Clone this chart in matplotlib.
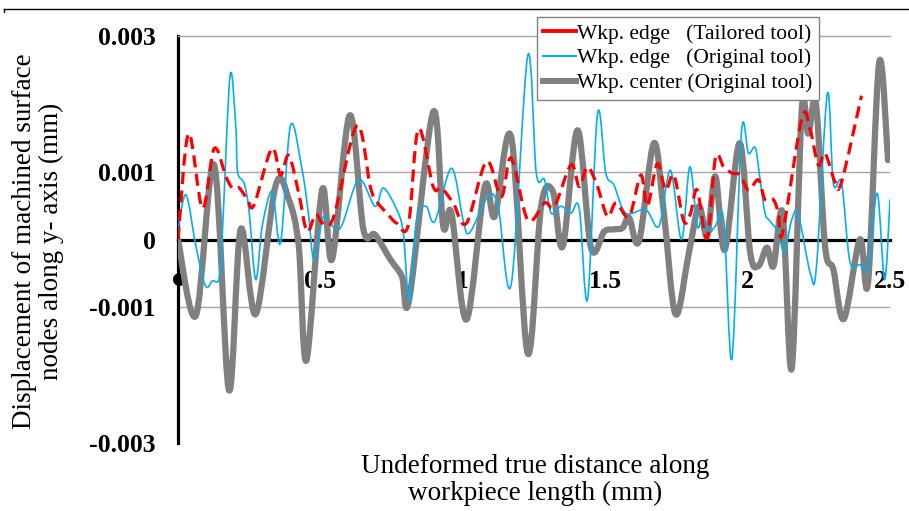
import numpy as np
import matplotlib.pyplot as plt
from matplotlib.lines import Line2D
from matplotlib.path import Path
from matplotlib.patches import PathPatch

# Wkp. center (Original tool)  -- x in mm, y in mm
center_x = [0, 0.063, 0.127, 0.179, 0.220, 0.273, 0.343, 0.389, 0.424, 0.451, 0.506,
            0.541, 0.603, 0.651, 0.692, 0.745, 0.786, 0.812, 0.896, 0.931, 0.960, 1.013,
            1.077, 1.112, 1.170, 1.228, 1.275, 1.316, 1.351, 1.403, 1.450, 1.497, 1.531,
            1.561, 1.584, 1.619, 1.671, 1.706, 1.747, 1.794, 1.829, 1.858, 1.887, 1.920,
            1.972, 2.009, 2.038, 2.068, 2.091, 2.123, 2.155, 2.190, 2.213, 2.240, 2.272,
            2.301, 2.338, 2.394, 2.423, 2.462, 2.493]
center_y = [0.0, -0.00112, 0.00110, -0.00222, 0.00015, -0.00110, 0.00080, 0.00059, -0.00010,
            -0.00178, 0.00073, -0.00029, 0.00183, 0.00015, 0.00007, -0.00029, -0.00054,
            -0.00088, 0.00188, 0.00020, 0.00039, -0.00118, 0.00078, 0.00034, 0.00151,
            -0.00168, 0.00049, 0.00071, -0.00010, 0.00161, -0.00012, 0.00012, 0.00015,
            0.00017, 0.00032, -0.00002, 0.00142, 0.00039, -0.00110, -0.00019, 0.00049,
            0.00005, 0.00093, -0.00015, 0.00142, -0.00019, -0.00039, -0.00012, -0.00039,
            0.00039, -0.00190, 0.00190, 0.00156, 0.00200, -0.00010, -0.00044, -0.00117,
            0.0, -0.00063, 0.00261, 0.00117]

# Wkp. edge (Original tool)
orig_x = [0, 0.028, 0.063, 0.096, 0.121, 0.145, 0.157, 0.183, 0.203, 0.209, 0.232, 0.249,
          0.273, 0.296, 0.331, 0.360, 0.395, 0.436, 0.459, 0.477, 0.506, 0.523, 0.570,
          0.634, 0.692, 0.721, 0.768, 0.791, 0.812, 0.838, 0.871, 0.902, 0.960, 1.001,
          1.024, 1.088, 1.124, 1.170, 1.228, 1.258, 1.287, 1.310, 1.345, 1.380, 1.409,
          1.438, 1.473, 1.502, 1.531, 1.572, 1.642, 1.689, 1.729, 1.768, 1.797, 1.823,
          1.841, 1.864, 1.887, 1.916, 1.945, 1.978, 2.003, 2.027, 2.044, 2.061, 2.079,
          2.108, 2.129, 2.155, 2.178, 2.221, 2.242, 2.280, 2.301, 2.330, 2.359, 2.394,
          2.423, 2.455, 2.481, 2.500]
orig_y = [0.00015, 0.00066, -0.00010, -0.00068, -0.00061, -0.00056, 0.00020, 0.00242,
          0.00166, 0.00100, 0.00083, 0.00044, -0.00059, 0.00020, 0.00071, -0.00005,
          0.00168, 0.00102, 0.00034, -0.00029, 0.00029, 0.00030, 0.00017, 0.00088,
          0.00049, 0.00076, 0.00044, 0.00010, -0.00090, 0.00029, 0.00049, 0.00027,
          0.00105, 0.00029, 0.00010, 0.00063, 0.00049, -0.00066, 0.00271, 0.00098,
          0.00088, 0.00039, 0.00049, 0.00039, 0.00046, -0.00088, 0.00185, 0.00098,
          0.00080, 0.00039, 0.00044, 0.00020, 0.00102, 0.0, 0.00107, 0.00020, 0.00034,
          0.00010, 0.00020, 0.00029, -0.00176, 0.00156, 0.00127, 0.00135, 0.00088,
          0.00039, 0.00027, 0.00010, -0.00019, 0.00029, 0.00037, -0.00051, -0.00039,
          0.00215, 0.00083, 0.00083, -0.00032, -0.00037, -0.00041, 0.00068, -0.00059,
          0.00059]

# Wkp. edge (Tailored tool)
tail_x = [0, 0.037, 0.086, 0.127, 0.168, 0.191, 0.215, 0.244, 0.267, 0.329, 0.360, 0.389,
          0.424, 0.453, 0.483, 0.509, 0.547, 0.628, 0.675, 0.698, 0.733, 0.768, 0.809,
          0.844, 0.896, 0.925, 0.966, 1.013, 1.083, 1.135, 1.170, 1.228, 1.287, 1.322,
          1.380, 1.409, 1.438, 1.473, 1.508, 1.538, 1.584, 1.625, 1.648, 1.683, 1.712,
          1.741, 1.776, 1.800, 1.823, 1.858, 1.887, 1.916, 1.945, 1.974, 2.003, 2.038,
          2.061, 2.090, 2.108, 2.123, 2.190, 2.219, 2.248, 2.272, 2.307, 2.330, 2.400]
tail_y = [0.0, 0.00156, 0.00046, 0.00134, 0.00093, 0.00076, 0.00076, 0.00059, 0.00051,
          0.00134, 0.00095, 0.00124, 0.00068, 0.00012, 0.00037, 0.00024, 0.00034,
          0.00168, 0.00078, 0.00056, 0.00039, 0.00024, 0.00022, 0.00163, 0.00078,
          0.00076, 0.00054, 0.00024, 0.00115, 0.00063, 0.00120, 0.00029, 0.00054,
          0.00049, 0.00110, 0.00078, 0.00107, 0.00078, 0.00034, 0.00054, 0.00034,
          0.00095, 0.00049, 0.00112, 0.00073, 0.00095, 0.00027, 0.00039, 0.00073,
          0.00002, 0.00120, 0.00107, 0.00098, 0.00095, 0.00073, 0.00088, 0.00059,
          0.00059, 0.00039, 0.00010, 0.00178, 0.00163, 0.00110, 0.00127, 0.00085,
          0.00085, 0.00212]

y_ticks = [-0.003, -0.001, 0, 0.001, 0.003]
y_labels = ['-0.003', '-0.001', '0', '0.001', '0.003']
x_ticks = [0, 0.5, 1, 1.5, 2, 2.5]
x_labels = ['\u25cf', '0.5', '1', '1.5', '2', '2.5']

serif = 'Liberation Serif'


def smooth_path(xs, ys):
    # Excel-style smoothed line: cubic Bezier segments through the data points
    p = np.column_stack([xs, ys])
    verts = [p[0]]
    codes = [Path.MOVETO]
    n = len(p)
    for i in range(n - 1):
        p0 = p[max(i - 1, 0)]
        p1, p2 = p[i], p[i + 1]
        p3 = p[min(i + 2, n - 1)]
        verts += [p1 + (p2 - p0) / 6, p2 - (p3 - p1) / 6, p2]
        codes += [Path.CURVE4] * 3
    return Path(verts, codes)


def draw_series(ax, xs, ys, **kw):
    patch = PathPatch(smooth_path(xs, ys), fill=False, transform=ax.transData, **kw)
    ax.add_patch(patch)


fig = plt.figure(figsize=(9.09, 5.11), dpi=100)
ax = fig.add_axes([178 / 909, 68 / 511, 712 / 909, 407 / 511])

draw_series(ax, center_x, center_y, edgecolor='#808080', lw=4.5, joinstyle='round',
            capstyle='round', zorder=3)
draw_series(ax, orig_x, orig_y, edgecolor='#00B0F0', lw=1.2, zorder=4)
draw_series(ax, tail_x, tail_y, edgecolor='#FF0000', lw=2.3, linestyle=(0, (3.8, 2)),
            zorder=5)

ax.set_xlim(0, 2.5)
ax.set_ylim(-0.003, 0.003)

# grid lines at +-0.001 (top spine acts as 0.003 line)
for g in (0.001, -0.001):
    ax.axhline(g, color='#A6A6A6', lw=1, zorder=1)

ax.spines['right'].set_visible(False)
ax.spines['top'].set_color('#A6A6A6')
ax.spines['top'].set_linewidth(1)
ax.spines['left'].set_linewidth(2.3)
ax.spines['left'].set_color('black')
ax.spines['bottom'].set_position(('data', 0))
ax.spines['bottom'].set_linewidth(2.3)
ax.spines['bottom'].set_zorder(2)

ax.set_yticks(y_ticks)
ax.set_yticklabels(y_labels, fontfamily=serif, fontweight='bold', fontsize=18.5)
ax.set_xticks(x_ticks)
ax.set_xticklabels(x_labels, fontfamily=serif, fontweight='bold', fontsize=18.5)
ax.tick_params(axis='y', length=0, pad=16)
ax.tick_params(axis='x', length=0, pad=22)
ax.get_xticklabels()[0].set_fontfamily('DejaVu Sans')
ax.get_xticklabels()[0].set_fontsize(12)

fig.text(535 / 909, 1 - 480 / 511, 'Undeformed true distance along\nworkpiece length (mm)',
         ha='center', va='center', fontfamily=serif, fontsize=19.5, linespacing=1.12)
fig.text(38 / 909, 1 - 241 / 511, 'Displacement of machined surface\nnodes along y- axis (mm)',
         ha='center', va='center', rotation=90, fontfamily=serif, fontsize=19.5,
         linespacing=1.12)

handles = [Line2D([], [], color='#FF0000', lw=2.8),
           Line2D([], [], color='#00B0F0', lw=1.5),
           Line2D([], [], color='#808080', lw=4.3)]
labels = ['Wkp. edge   (Tailored tool)', 'Wkp. edge   (Original tool)',
          'Wkp. center (Original tool)']
leg = fig.legend(handles, labels, loc='upper left', bbox_to_anchor=(537 / 909, 1 - 17 / 511),
                 prop={'family': serif, 'size': 15.5}, frameon=True, fancybox=False,
                 framealpha=1, edgecolor='#808080', borderpad=0.3, labelspacing=0.22,
                 handlelength=1.5, handletextpad=0.05, borderaxespad=0)
leg.get_frame().set_linewidth(1)

# thin frame line at the very top of the picture
fig.add_artist(Line2D([4 / 909, 1], [1 - 9 / 511, 1 - 9 / 511], color='black', lw=1))
fig.add_artist(Line2D([4 / 909, 4 / 909], [1 - 9 / 511, 1 - 12 / 511], color='black', lw=1))

fig.savefig('out.png', dpi=100)
